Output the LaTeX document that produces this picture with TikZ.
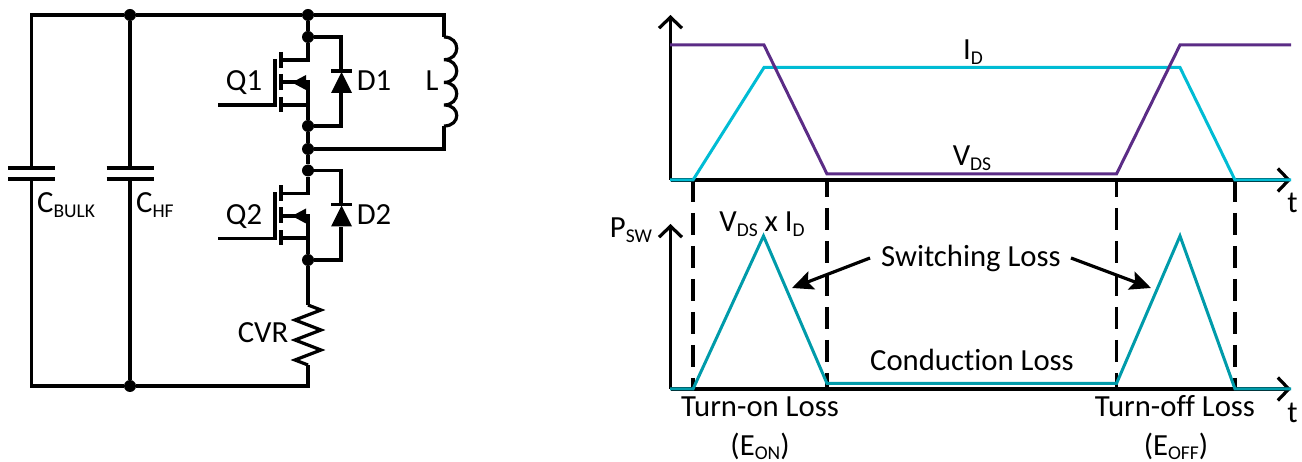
\documentclass[tikz,border=0pt]{standalone}
\usepackage{fontspec}
\setmainfont{Carlito}[Ligatures=CommonOff]
\usetikzlibrary{arrows.meta}
\newcommand{\lowr}[1]{\raisebox{-4.3pt}{\fontsize{19.5}{19.5}\selectfont #1}}

\begin{document}
\begin{tikzpicture}[x=1pt,y=-1pt]

\tikzset{dot/.style = {shape=circle,fill=black,inner sep=0,minimum size=12pt}}
\tikzset{wire/.style = {line width=3.2pt}}
\tikzset{lbl/.style = {anchor=base,inner sep=0,font=\fontsize{30.7}{33}\selectfont}}
\tikzset{axis/.style = {line width=3.2pt,-{Straight Barb[length=11pt,width=23pt,line width=3.2pt]}}}
\tikzset{edgeline/.style = {line width=3.2pt,dash pattern=on 22pt off 11pt}}
\tikzset{lead/.style = {line width=3.2pt,-{Stealth[length=21pt,width=19pt,inset=4pt]}}}
\definecolor{idcol}{RGB}{91,44,134}
\definecolor{vdscol}{RGB}{0,188,212}
\definecolor{pswcol}{RGB}{0,155,170}
\useasboundingbox (0,0) rectangle (1302,462);

%junctions
\node[dot] (tc) at (130,15) {};
\node[dot] (tm) at (308,15) {};
\node[dot] (q1d) at (308,37) {};
\node[dot] (q1s) at (308,126) {};
\node[dot] (mid) at (308,149) {};
\node[dot] (q2d) at (308,170.5) {};
\node[dot] (q2s) at (308,260) {};
\node[dot] (bc) at (130,386) {};
\coordinate (tl) at (31.5,15);
\coordinate (bl) at (31.5,386);
\coordinate (br) at (308,386);
\coordinate (tr) at (444,15);
\coordinate (lt) at (444,37);
\coordinate (lb) at (444,126);
\coordinate (mr) at (444,149);
\coordinate (c1a) at (31.5,168);
\coordinate (c1b) at (31.5,179);
\coordinate (c2a) at (130,168);
\coordinate (c2b) at (130,179);
\coordinate (r1) at (308,305);
\coordinate (r2) at (308,365);

%rails
\draw[wire] (c1a) -- (tl) -- (tc) -- (tm) -- (tr) -- (lt);
\draw[wire] (c1b) -- (bl) -- (bc) -- (br) -- (r2);
\draw[wire] (c2a) -- (tc);
\draw[wire] (c2b) -- (bc);
\draw[wire] (tm) -- (q1d);
\draw[wire] (q1s) -- (mid);
\draw[wire] (mid) -- (q2d);
\draw[wire] (lb) -- (mr) -- (mid);
\draw[wire] (q2s) -- (r1);

%capacitors
\draw[wire] ([xshift=-23.5pt]c1a) -- ([xshift=23.5pt]c1a);
\draw[wire] ([xshift=-23.5pt]c1b) -- ([xshift=23.5pt]c1b);
\draw[wire] ([xshift=-23.5pt]c2a) -- ([xshift=23.5pt]c2a);
\draw[wire] ([xshift=-23.5pt]c2b) -- ([xshift=23.5pt]c2b);

%inductor
\draw[wire] (lt) .. controls +(17,0) and +(17,0) .. ++(0,22.7)
  .. controls +(17,0) and +(17,0) .. ++(0,22.7)
  .. controls +(17,0) and +(17,0) .. ++(0,22.6)
  .. controls +(17,0) and +(17,0) .. (lb);

%resistor
\draw[wire] (r1) -- ++(13,5) -- ++(-26,10) -- ++(26,10) -- ++(-26,10) -- ++(26,10) -- ++(-26,10) -- (r2);

%q1
\draw[wire] (q1d) -- ++(0,23) -- ++(-27,0);
\draw[wire] (q1s) -- ++(0,-44) -- ++(-27,0);
\draw[wire] (q1s) -- ++(0,-21) -- ++(-27,0);
\draw[wire] (281,52) -- (281,68) (281,74) -- (281,90) (281,97) -- (281,112);
\draw[wire] (275,59) -- (275,105) -- (218,105);
\fill (292,82.5) -- (306,75) -- (306,90) -- cycle;
\draw[wire] (q1d) -- ++(33,0) -- ++(0,34);
\draw[wire] (q1s) -- ++(33,0) -- ++(0,-33);
\draw[wire] (331,71) -- (352,71);
\fill (341.5,72) -- (352,93) -- (331,93) -- cycle;

%q2
\draw[wire] (q2d) -- ++(0,23) -- ++(-27,0);
\draw[wire] (q2s) -- ++(0,-44) -- ++(-27,0);
\draw[wire] (q2s) -- ++(0,-22) -- ++(-27,0);
\draw[wire] (281,185.5) -- (281,201.5) (281,207.5) -- (281,223.5) (281,230.5) -- (281,245.5);
\draw[wire] (275,192.5) -- (275,238.5) -- (218,238.5);
\fill (292,216) -- (306,208.5) -- (306,223.5) -- cycle;
\draw[wire] (q2d) -- ++(33,0) -- ++(0,34);
\draw[wire] (q2s) -- ++(33,0) -- ++(0,-33);
\draw[wire] (331,204.5) -- (352,204.5);
\fill (341.5,205.5) -- (352,226.5) -- (331,226.5) -- cycle;

%circuit labels
\node[lbl] (q1) at (244,91) {Q1};
\node[lbl] (d1) at (374,91) {D1};
\node[lbl] (l) at (432,91) {L};
\node[lbl] (q2) at (244,225) {Q2};
\node[lbl] (d2) at (374,225) {D2};
\node[lbl] (cvr) at (263,343) {CVR};
\node[lbl,anchor=base west] (cbulk) at (37,213) {C\lowr{BULK}};
\node[lbl,anchor=base west] (chf) at (136,213) {C\lowr{HF}};

%axes
\coordinate (o1) at (670.5,180);
\coordinate (o2) at (670.5,389);
\draw[axis] (o1) -- (670.5,15);
\draw[axis] (o1) -- (1291,180);
\draw[axis] (o2) -- (670.5,224);
\draw[axis] (o2) -- (1291,389);

%edges of the switching intervals
\draw[edgeline] (693,180) -- (693,389);
\draw[edgeline,dash phase=5pt] (827,180) -- (827,389);
\draw[edgeline,dash phase=5pt] (1116.5,180) -- (1116.5,389);
\draw[edgeline] (1235,180) -- (1235,389);

%waveforms
\draw[line width=3pt,vdscol] (670,180) -- (693,180) -- (764,67.5) -- (1180,67.5) -- (1235,180) -- (1291,180);
\draw[line width=3pt,idcol] (670,45) -- (764,45) -- (827,174) -- (1116.5,174) -- (1180,45) -- (1291,45);
\draw[line width=3pt,pswcol] (670,389) -- (693,389) -- (763.5,236) -- (827,383.5) -- (1116.5,383.5) -- (1180,236) -- (1235,389) -- (1291,389);

%waveform labels
\node[lbl] (id) at (973,60) {I\lowr{D}};
\node[lbl] (vds) at (972,166) {V\lowr{DS}};
\node[lbl] (t1) at (1292.5,213) {t};
\node[lbl] (psw) at (631,238) {P\lowr{SW}};
\node[lbl] (vi) at (762,232) {V\lowr{DS} x I\lowr{D}};
\node[lbl] (sw) at (971,267) {Switching Loss};
\node[lbl] (cond) at (972,371) {Conduction Loss};
\node[lbl] (on) at (760,417) {Turn-on Loss};
\node[lbl] (eon) at (760,455) {(E\lowr{ON})};
\node[lbl] (off) at (1175,417) {Turn-off Loss};
\node[lbl] (eoff) at (1176,455) {(E\lowr{OFF})};
\node[lbl] (t2) at (1292.5,422) {t};

%arrows
\coordinate (a1) at (792,288);
\coordinate (a2) at (1151,288);
\draw[lead] (sw.west |- 0,258) ++(-11,0) -- (a1);
\draw[lead] (sw.east |- 0,258) ++(10,0) -- (a2);

\end{tikzpicture}
\end{document}
